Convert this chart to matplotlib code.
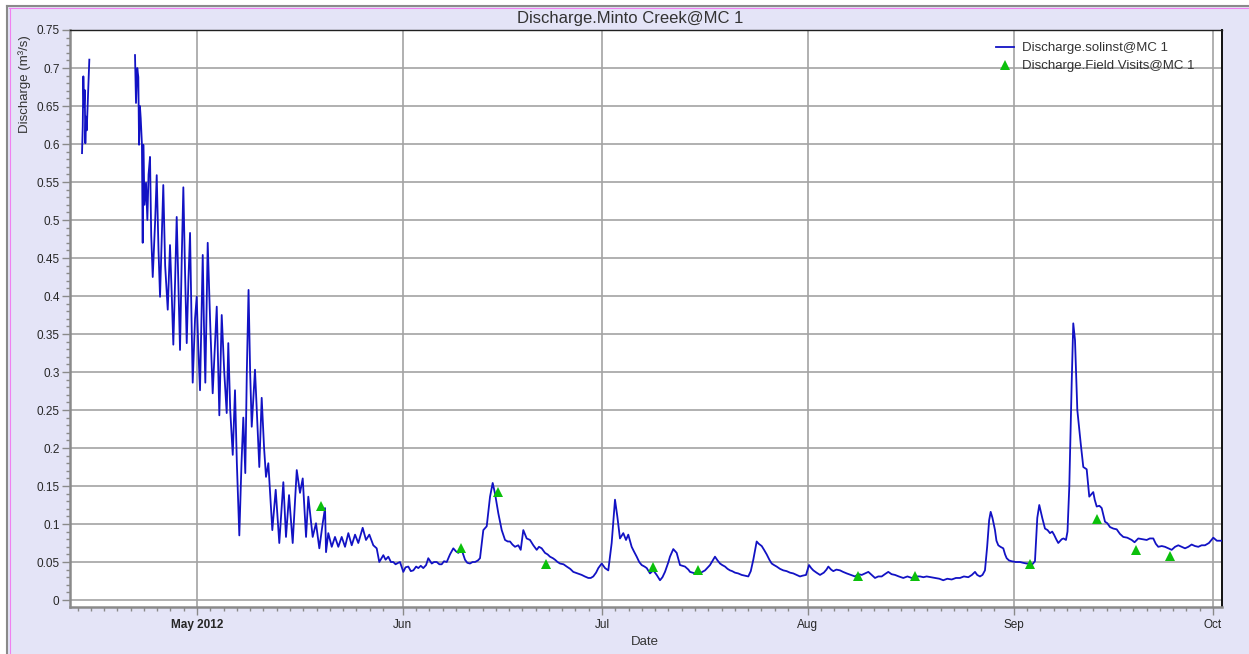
from datetime import datetime

import matplotlib
matplotlib.use("Agg")
from matplotlib import pyplot as plt
from matplotlib import dates as mdates
from matplotlib import ticker
from matplotlib.lines import Line2D
from matplotlib.patches import Rectangle
import numpy as np

plt.rcParams["font.family"] = ["Liberation Sans", "DejaVu Sans"]

W, H = 1249, 654
START = datetime(2012, 5, 1)

# solinst logger record: days after 1 May 2012, discharge in m3/s
# (nan splits off the short mid-April run)
days = [
    -17.32, -17.21, -17.12, -17.02, -16.91, -16.82, -16.72, -16.61, -16.52, -16.31, -16.22,
    -16.0,
    -9.34, -9.19, -9.0, -8.84, -8.73, -8.6, -8.48, -8.3, -8.18, -8.09, -7.9, -7.68, -7.48,
    -7.3, -7.08, -6.9, -6.67, -6.3, -6.07, -5.8, -5.57, -5.3, -5.08, -4.8, -4.41, -4.07,
    -3.8, -3.57, -3.3, -3.06, -2.8, -2.56, -2.3, -2.06, -1.8, -1.55, -1.3, -1.05, -0.85,
    -0.65, -0.3, -0.05, 0.2, 0.45, 0.86, 1.05, 1.25, 1.61, 2.0, 2.36, 2.97, 3.36, 3.72,
    4.1, 4.47, 4.71, 5.0, 5.38, 5.72, 6.0, 6.37, 6.7, 6.97, 7.27, 7.5, 7.76, 8.0, 8.24,
    8.73, 9.38, 9.74, 10.1, 10.39, 10.74, 11.34, 11.85, 12.39, 13.0, 13.4, 13.86, 14.41,
    15.02, 15.51, 15.92, 16.42, 16.76, 17.42, 17.92, 18.42, 18.93, 19.28, 19.43, 19.77,
    20.29, 20.78, 21.28, 21.79, 22.29, 22.79, 23.3, 23.8, 24.29, 24.95, 25.45, 25.95,
    26.55, 27.06, 27.45, 28.06, 28.4, 28.81, 29.2, 29.56, 29.9, 30.32, 30.57, 31.07,
    31.4, 31.82, 32.2, 32.58, 33.0, 33.33, 33.7, 34.08, 34.5, 34.83, 35.35, 35.7, 36.1,
    36.5, 36.85, 37.2, 37.61, 38.1, 38.6, 39.0, 39.35, 39.86, 40.36, 40.7, 41.11, 41.5,
    41.87, 42.3, 42.62, 43.12, 43.63, 44.13, 44.53, 44.88, 45.38, 45.89, 46.39, 46.8,
    47.14, 47.5, 47.89, 48.39, 48.75, 49.14, 49.65, 50.15, 50.65, 51.16, 51.5, 51.91,
    52.41, 52.8, 53.16, 53.6, 53.92, 54.3, 54.67, 55.2, 55.68, 56.2, 56.67, 57.3, 57.94,
    58.4, 58.93, 59.3, 59.68, 60.1, 60.44, 60.95, 61.45, 61.94, 62.45, 62.95, 63.3, 63.7,
    64.2, 64.61, 64.95, 65.46, 65.8, 66.22, 66.6, 66.97, 67.4, 67.73, 68.22, 68.72, 69.23,
    69.73, 70.1, 70.48, 71.0, 71.23, 71.73, 72.24, 72.74, 73.1, 73.49, 74.0, 74.25, 74.6,
    75.0, 75.4, 75.75, 76.1, 76.51, 77.26, 78.01, 78.4, 78.77, 79.1, 79.52, 79.9, 80.27,
    80.6, 81.02, 81.5, 82.03, 82.5, 83.03, 83.4, 83.78, 84.29, 84.6, 85.05, 85.4, 85.8,
    86.2, 86.55, 86.9, 87.3, 87.8, 88.3, 88.8, 89.31, 89.8, 90.32, 90.81, 91.2, 91.72,
    92.17, 92.5, 92.82, 93.3, 93.83, 94.4, 94.8, 95.08, 95.5, 95.83, 96.3, 96.84, 97.3,
    97.85, 98.5, 99.1, 99.6, 100.11, 100.6, 101.11, 101.6, 102.11, 102.6, 103.12, 103.6,
    104.11, 104.6, 105.12, 105.7, 106.37, 107.0, 107.64, 108.3, 108.89, 109.4, 109.89,
    110.5, 111.14, 111.8, 112.39, 113.0, 113.66, 114.3, 114.91, 115.5, 116.16, 116.7,
    117.17, 117.5, 117.92, 118.3, 118.67, 119.0, 119.3, 119.53, 119.8, 120.18, 120.4,
    120.68, 121.0, 121.43, 121.7, 121.94, 122.3, 122.69, 123.3, 123.95, 124.4, 124.95,
    125.3, 125.71, 126.2, 126.55, 126.85, 127.3, 127.71, 128.1, 128.46, 128.8, 129.07,
    129.4, 129.71, 130.23, 130.5, 130.87, 131.1, 131.37, 131.73, 131.97, 132.23, 132.58,
    133.09, 133.48, 133.99, 134.38, 134.98, 135.2, 135.5, 135.9, 136.25, 136.75, 137.1,
    137.5, 138.0, 138.51, 139.0, 139.5, 140.1, 140.77, 141.2, 141.76, 142.4, 143.03,
    143.5, 144.02, 144.4, 144.77, 145.3, 145.78, 146.3, 146.79, 147.3, 147.79, 148.3,
    148.8, 149.3, 149.8, 150.3, 150.8, 151.3, 151.81, 152.4, 153.06, 153.6, 154.07, 154.37,
]
flow = [
    0.588, 0.623, 0.689, 0.649, 0.671, 0.601, 0.636, 0.618, 0.640, 0.689, 0.711,
    np.nan,
    0.717, 0.654, 0.700, 0.688, 0.599, 0.650, 0.634, 0.600, 0.470, 0.599, 0.520, 0.549, 0.500,
    0.560, 0.583, 0.480, 0.425, 0.500, 0.559, 0.460, 0.399, 0.480, 0.546, 0.440, 0.382, 0.467,
    0.400, 0.336, 0.420, 0.504, 0.410, 0.329, 0.450, 0.543, 0.430, 0.338, 0.420, 0.483, 0.380,
    0.286, 0.370, 0.399, 0.330, 0.276, 0.454, 0.360, 0.286, 0.470, 0.360, 0.272, 0.386, 0.243, 0.375,
    0.300, 0.246, 0.338, 0.250, 0.191, 0.276, 0.180, 0.085, 0.180, 0.240, 0.167, 0.300, 0.408, 0.300, 0.228,
    0.303, 0.175, 0.266, 0.200, 0.162, 0.180, 0.092, 0.145, 0.075, 0.155, 0.083, 0.138, 0.075,
    0.171, 0.141, 0.160, 0.083, 0.136, 0.083, 0.101, 0.068, 0.101, 0.121, 0.063, 0.088,
    0.070, 0.083, 0.070, 0.083, 0.070, 0.088, 0.072, 0.086, 0.075, 0.095, 0.079, 0.086,
    0.072, 0.068, 0.050, 0.059, 0.053, 0.057, 0.050, 0.050, 0.047, 0.049, 0.050, 0.037,
    0.043, 0.044, 0.038, 0.039, 0.044, 0.042, 0.045, 0.042, 0.046, 0.055, 0.048, 0.050, 0.050,
    0.047, 0.047, 0.051, 0.050, 0.060, 0.068, 0.064, 0.062, 0.066, 0.053, 0.049, 0.048, 0.050,
    0.050, 0.052, 0.055, 0.092, 0.097, 0.136, 0.154, 0.140, 0.114, 0.092, 0.079, 0.077,
    0.077, 0.073, 0.070, 0.072, 0.066, 0.092, 0.081, 0.079, 0.072, 0.066, 0.070, 0.068,
    0.062, 0.060, 0.057, 0.055, 0.053, 0.050, 0.048, 0.047, 0.044, 0.041, 0.037, 0.035, 0.033,
    0.031, 0.029, 0.029, 0.031, 0.036, 0.042, 0.048, 0.042, 0.039, 0.075, 0.132, 0.110, 0.081,
    0.088, 0.079, 0.086, 0.070, 0.064, 0.057, 0.050, 0.046, 0.044, 0.042, 0.035, 0.039, 0.033,
    0.026, 0.030, 0.037, 0.050, 0.057, 0.067, 0.062, 0.046, 0.045, 0.044, 0.040, 0.037, 0.036,
    0.035, 0.034, 0.035, 0.037, 0.039, 0.046, 0.057, 0.052, 0.048, 0.046, 0.044, 0.041, 0.039,
    0.038, 0.036, 0.035, 0.033, 0.032, 0.031, 0.038, 0.053, 0.077, 0.074, 0.071, 0.066, 0.060,
    0.053, 0.048, 0.046, 0.044, 0.041, 0.039, 0.038, 0.036, 0.035, 0.033, 0.031, 0.032, 0.033,
    0.046, 0.042, 0.039, 0.036, 0.033, 0.036, 0.040, 0.044, 0.040, 0.038, 0.040, 0.039, 0.037,
    0.035, 0.033, 0.031, 0.034, 0.033, 0.035, 0.037, 0.033, 0.029, 0.031, 0.031, 0.034,
    0.037, 0.034, 0.033, 0.031, 0.029, 0.031, 0.029, 0.031, 0.031, 0.030, 0.031,
    0.030, 0.029, 0.028, 0.026, 0.028, 0.027, 0.029, 0.029, 0.031, 0.030, 0.033,
    0.037, 0.033, 0.031, 0.033, 0.039, 0.070, 0.105, 0.116, 0.108, 0.092, 0.078,
    0.072, 0.070, 0.068, 0.060, 0.055, 0.052, 0.051, 0.050, 0.050, 0.049, 0.048,
    0.048, 0.046, 0.051, 0.108, 0.125, 0.108, 0.094, 0.092, 0.088, 0.090, 0.086,
    0.080, 0.075, 0.080, 0.081, 0.079, 0.090, 0.149, 0.285, 0.364, 0.342, 0.250,
    0.206, 0.175, 0.172, 0.136, 0.142, 0.132, 0.123, 0.124, 0.121, 0.103, 0.101,
    0.096, 0.094, 0.093, 0.087, 0.083, 0.082, 0.079, 0.076, 0.081, 0.080, 0.079,
    0.081, 0.081, 0.074, 0.070, 0.071, 0.070, 0.068, 0.066, 0.070, 0.072, 0.070,
    0.068, 0.070, 0.073, 0.071, 0.070, 0.072, 0.072, 0.075, 0.082, 0.078, 0.078, 0.078,
]

# field visit gaugings
visit_days = [18.6, 39.7, 45.3, 52.6, 68.7, 75.5, 99.5, 108.2, 125.5, 135.5, 141.4, 146.5]
visit_flow = [0.124, 0.069, 0.142, 0.047, 0.043, 0.039, 0.032, 0.032, 0.048, 0.107, 0.066, 0.058]

month_starts = [datetime(2012, m, 1) for m in range(5, 11)]
month_labels = ["May 2012", "Jun", "Jul", "Aug", "Sep", "Oct"]

BG = "#e4e4f7"
GRID = "#a3a3a3"
FRAME = "#8a8a8a"

fig = plt.figure(figsize=(W / 100, H / 100), dpi=100, facecolor="white")

# window frame: lavender panel with grey and pink edges on top and left
fig.patches.append(Rectangle((7 / W, 0), 1, 1 - 5 / H, transform=fig.transFigure,
                             facecolor=BG, edgecolor="none", zorder=-5))
fig.add_artist(Line2D([7 / W, 1], [1 - 5.5 / H] * 2, color=FRAME, lw=1.5))
fig.add_artist(Line2D([7 / W] * 2, [0, 1 - 5.5 / H], color=FRAME, lw=1.5))
fig.add_artist(Line2D([9 / W, 1], [1 - 8 / H] * 2, color="#f080f0", lw=0.8))
fig.add_artist(Line2D([9.5 / W] * 2, [0, 1 - 8 / H], color="#f080f0", lw=0.8))

ax = fig.add_axes([70 / W, 47 / H, 1152 / W, 577 / H])
ax.set_facecolor("white")

t0 = mdates.date2num(START)
x = t0 + np.array(days)
ax.plot(x, flow, color="#1212c4", lw=1.3, zorder=3, label="Discharge.solinst@MC 1")
ax.plot(t0 + np.array(visit_days), visit_flow, linestyle="none", marker="^",
        markersize=7, color="#0cc00c", markeredgewidth=0, zorder=4,
        label="Discharge.Field Visits@MC 1")

ax.set_xlim(t0 - 19.13, t0 + 154.37)
ax.set_ylim(-0.0092, 0.75)

ax.set_xticks(mdates.date2num(month_starts))
ax.set_xticklabels(month_labels)
ax.get_xticklabels()[0].set_fontweight("bold")
ax.xaxis.set_minor_locator(mdates.DayLocator(bymonthday=range(3, 31, 2)))

ax.yaxis.set_major_locator(ticker.MultipleLocator(0.05))
ax.yaxis.set_minor_locator(ticker.MultipleLocator(0.01))
ax.yaxis.set_major_formatter(ticker.FuncFormatter(lambda v, _: f"{v:g}"))

ax.grid(True, which="major", color=GRID, lw=1.2, zorder=0)
ax.set_axisbelow(True)

ax.tick_params(axis="both", which="major", length=6, width=1, color=FRAME,
               labelsize=8.5, labelcolor="#262626")
ax.tick_params(axis="both", which="minor", length=3.2, width=1, color=FRAME)
ax.tick_params(axis="x", which="major", pad=2.5)
ax.tick_params(axis="y", which="major", pad=1.5)

for side in ("left", "bottom"):
    ax.spines[side].set_color(FRAME)
    ax.spines[side].set_linewidth(1.8)
ax.spines["top"].set_color("#202020")
ax.spines["top"].set_linewidth(1.0)
ax.spines["right"].set_color("#101010")
ax.spines["right"].set_linewidth(1.4)

fig.text(630 / W, 1 - 18 / H, "Discharge.Minto Creek@MC 1", ha="center", va="center",
         fontsize=12, color="#333333")
fig.text(645 / W, 1 - 642 / H, "Date", ha="center", va="center", fontsize=9.5, color="#333333")
fig.text(25 / W, 1 - 35 / H, "Discharge (m³/s)", ha="center", va="top", rotation=90,
         fontsize=9.5, color="#333333")

ax.legend(loc="upper left", bbox_to_anchor=(996 / W, 1 - 42 / H), bbox_transform=fig.transFigure,
          frameon=False, fontsize=9.5, labelcolor="#333333", borderpad=0, borderaxespad=0,
          handlelength=1.4, handletextpad=0.6, labelspacing=0.45)

fig.savefig("out.png", dpi=100, facecolor=fig.get_facecolor())
